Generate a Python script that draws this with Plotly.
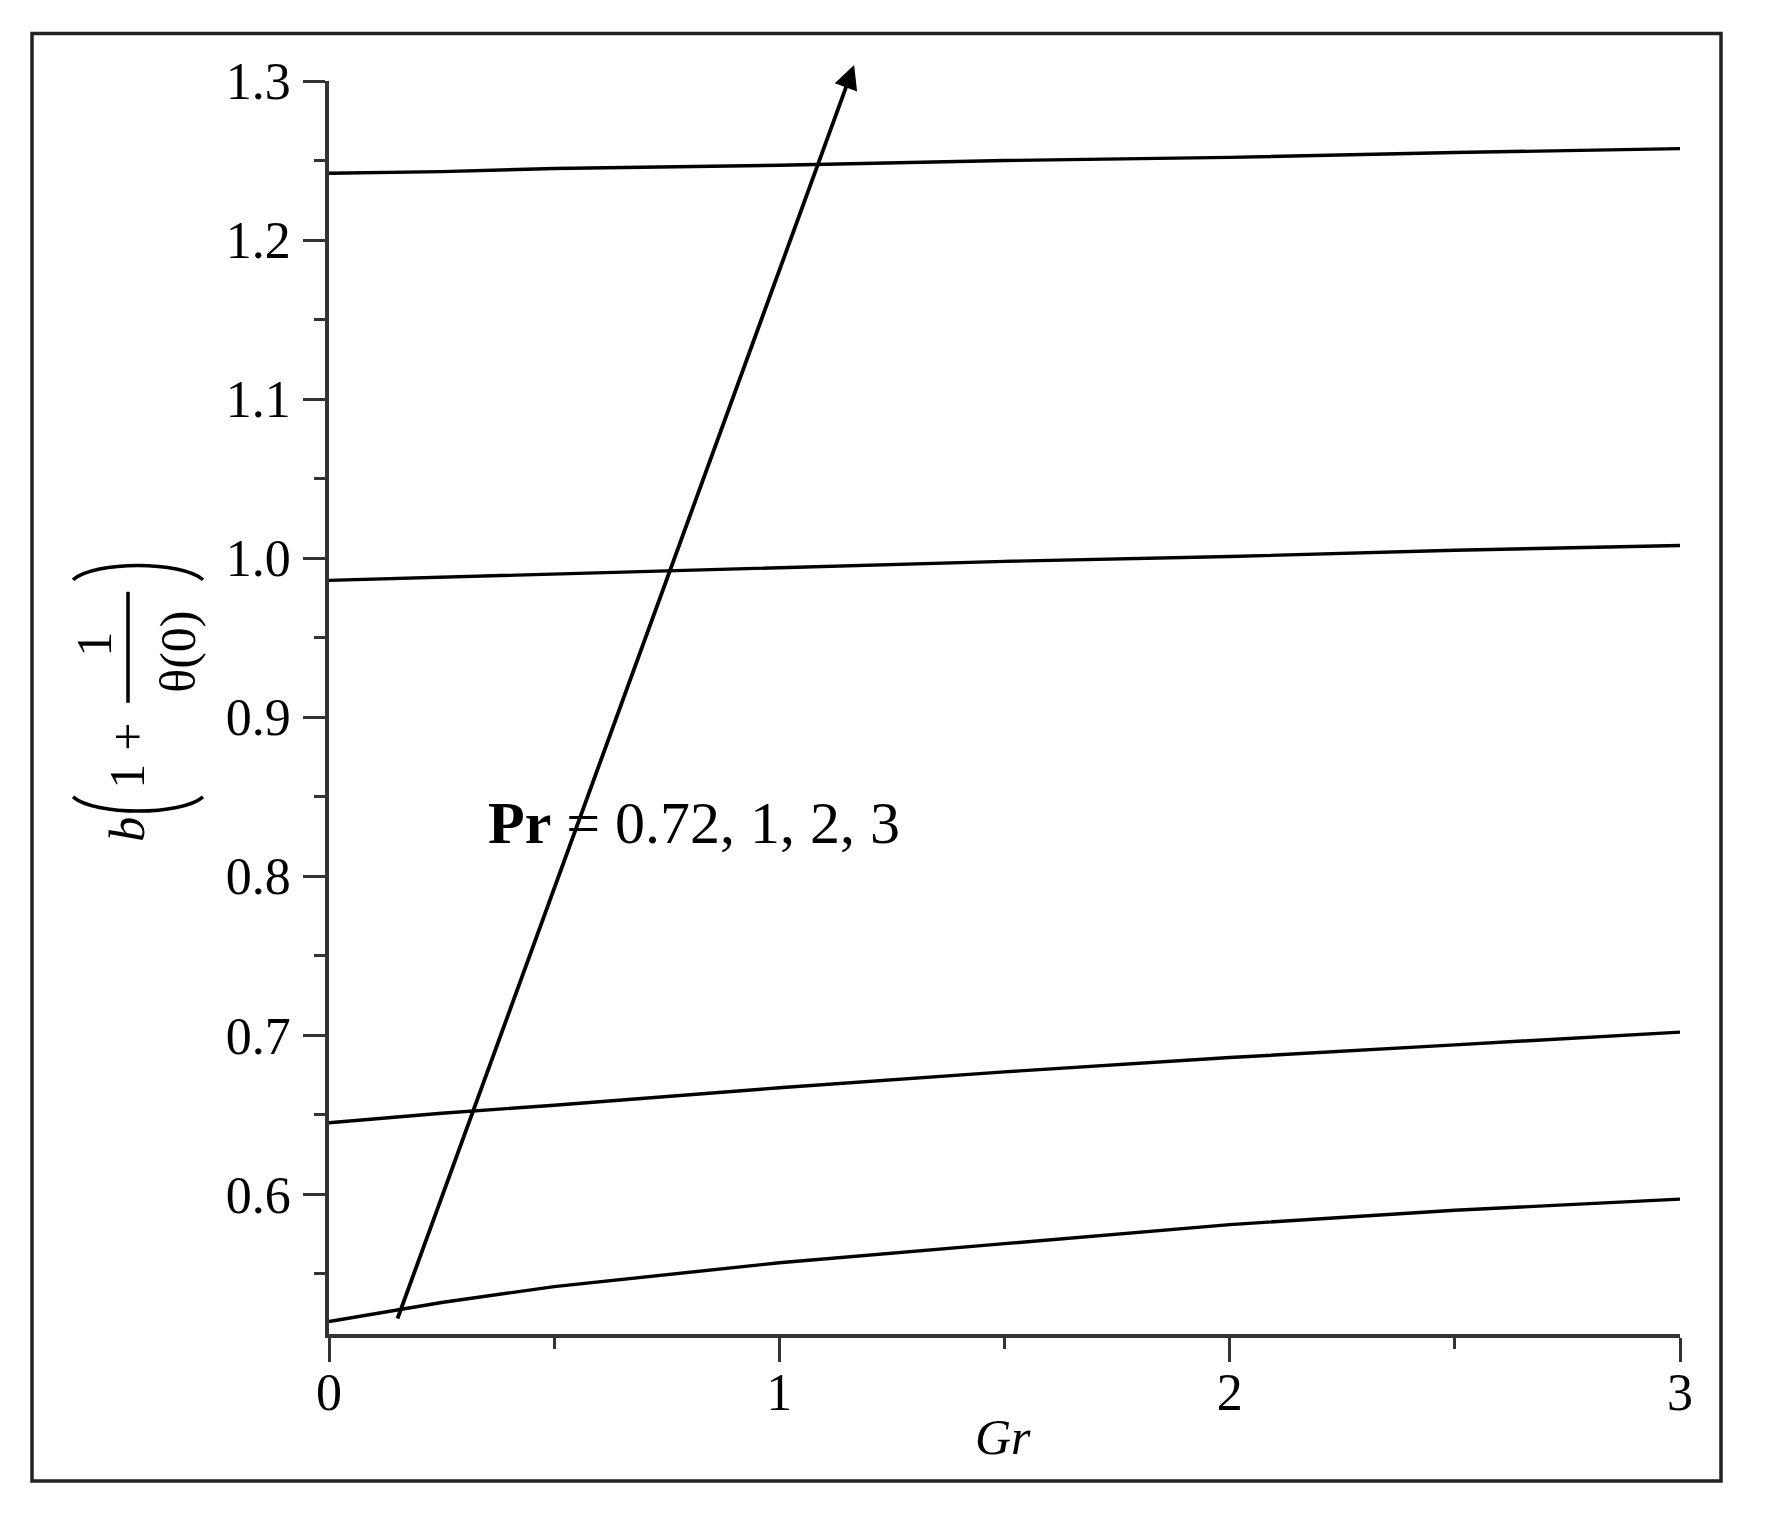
import plotly.graph_objects as go

# ---------------- data ----------------
gr = [0.0, 0.25, 0.5, 1.0, 1.5, 2.0, 2.5, 3.0]
pr_072 = [0.520, 0.532, 0.542, 0.557, 0.569, 0.581, 0.590, 0.597]
pr_1 = [0.645, 0.651, 0.656, 0.667, 0.677, 0.686, 0.694, 0.702]
pr_2 = [0.986, 0.988, 0.990, 0.994, 0.998, 1.001, 1.005, 1.008]
pr_3 = [1.242, 1.243, 1.245, 1.247, 1.250, 1.252, 1.255, 1.2575]
series = [pr_072, pr_1, pr_2, pr_3]

x_ticks = [0, 1, 2, 3]
y_ticks = [0.6, 0.7, 0.8, 0.9, 1.0, 1.1, 1.2, 1.3]
arrow_tail = (0.151, 0.521)
arrow_head = (1.166, 1.310)
label_text = "<b>Pr</b> = 0.72, 1, 2, 3"

# ---------------- layout geometry (pixels, reference frame) ----------------
OFF = 8  # page body margin
W, H = 1773 - OFF, 1526 - OFF
L, R, T, B = 329, 1680, 81.4, 1334


def px(x):
    return (x - L) / (R - L)


def py(y):
    return (B - y) / (B - T)


SERIF = "Liberation Serif, Times New Roman, serif"
AX = "#333333"

fig = go.Figure()
for s in series:
    fig.add_trace(go.Scatter(x=gr, y=s, mode="lines",
                             line=dict(color="black", width=3.4),
                             showlegend=False, hoverinfo="skip"))

fig.update_layout(
    width=W, height=H,
    margin=dict(l=L - OFF, r=W - (R - OFF), t=T - OFF, b=H - (B - OFF)),
    paper_bgcolor="white", plot_bgcolor="white",
    showlegend=False,
)

fig.update_xaxes(
    range=[0, 3], tickvals=x_ticks, ticktext=[str(v) for v in x_ticks],
    showgrid=False, zeroline=False,
    showline=True, linecolor=AX, linewidth=3.5,
    ticks="outside", ticklen=24, tickwidth=3, tickcolor=AX,
    minor=dict(dtick=0.5, ticks="outside", ticklen=11, tickwidth=3, tickcolor=AX, showgrid=False),
    tickfont=dict(family=SERIF, size=52, color="black"),
    ticklabelstandoff=-14,
)
fig.update_yaxes(
    range=[0.5122, 1.3], tickvals=y_ticks, ticktext=["%.1f" % v for v in y_ticks],
    showgrid=False, zeroline=False,
    showline=True, linecolor=AX, linewidth=3.5,
    ticks="outside", ticklen=22, tickwidth=3, tickcolor=AX,
    minor=dict(dtick=0.05, tick0=0.5, ticks="outside", ticklen=11, tickwidth=3, tickcolor=AX, showgrid=False),
    tickfont=dict(family=SERIF, size=52, color="black"),
    ticklabelstandoff=2,
)

# arrow
fig.add_annotation(x=arrow_head[0], y=arrow_head[1], ax=arrow_tail[0], ay=arrow_tail[1],
                   xref="x", yref="y", axref="x", ayref="y", text="",
                   showarrow=True, arrowhead=2, arrowsize=1.25, arrowwidth=3.8,
                   arrowcolor="black")

# Pr label
fig.add_annotation(x=px(694), y=py(823), xref="paper", yref="paper",
                   xanchor="center", yanchor="middle",
                   text=label_text, showarrow=False,
                   font=dict(family=SERIF, size=60, color="black"))

# x-axis title
fig.add_annotation(x=px(1003), y=py(1437), xref="paper", yref="paper",
                   xanchor="center", yanchor="middle",
                   text="<i>Gr</i>", showarrow=False,
                   font=dict(family=SERIF, size=50, color="black"))

# y-axis title pieces: b (1 + 1/θ(0))
def rot_text(txt, xp, yp, size=50):
    fig.add_annotation(x=px(xp), y=py(yp), xref="paper", yref="paper",
                       text=txt, showarrow=False, textangle=-90,
                       xanchor="center", yanchor="middle",
                       font=dict(family=SERIF, size=size, color="black"))

rot_text("<i>b</i>", 127, 830)
rot_text("1", 127, 777)
rot_text("+", 128, 737)
rot_text("1", 94, 645, 50)
rot_text("θ(0)", 178, 652, 50)


def ppath(points):
    (x0, y0), (c1x, c1y), (c2x, c2y), (x1, y1) = points
    return "M %f,%f C %f,%f %f,%f %f,%f" % (px(x0), py(y0), px(c1x), py(c1y),
                                             px(c2x), py(c2y), px(x1), py(y1))

# big parentheses
fig.add_shape(type="path", xref="paper", yref="paper",
              path=ppath([(73, 797), (95, 816), (181, 816), (203, 797)]),
              line=dict(color="black", width=3.5))
fig.add_shape(type="path", xref="paper", yref="paper",
              path=ppath([(73, 580), (95, 561), (181, 561), (203, 580)]),
              line=dict(color="black", width=3.5))
# fraction bar
fig.add_shape(type="line", xref="paper", yref="paper",
              x0=px(128), x1=px(128), y0=py(592), y1=py(703),
              line=dict(color="black", width=3.5))

# outer frame
fig.add_shape(type="rect", xref="paper", yref="paper",
              x0=px(32), x1=px(1721), y0=py(1481), y1=py(34),
              line=dict(color="#222222", width=3.5), layer="above")

fig.write_html("out.html")
